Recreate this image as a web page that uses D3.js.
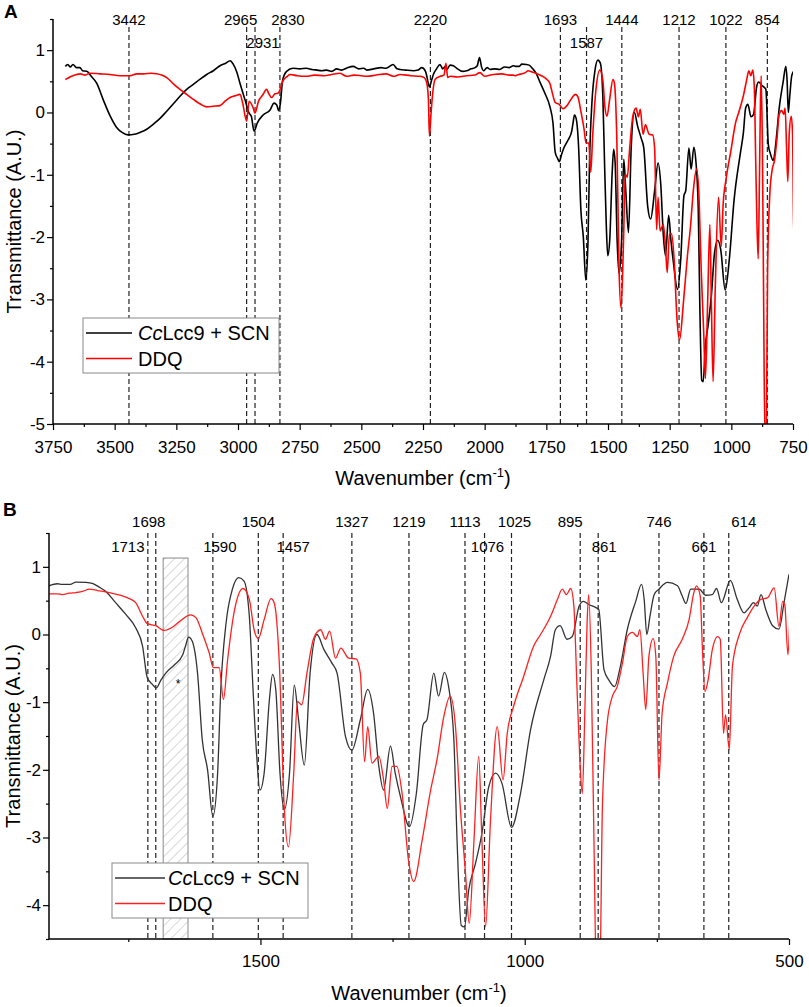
<!DOCTYPE html>
<html>
<head>
<meta charset="utf-8">
<script src="https://cdn.jsdelivr.net/npm/d3@7.9.0/dist/d3.min.js"></script>
<style>
  body { margin: 0; background: #fff; }
  svg { display: block; font-family: "Liberation Sans", Arial, sans-serif; }
</style>
</head>
<body>
<svg id="chart" width="809" height="1007"></svg>
<script>
// spectrum of CcLcc9 + SCN: [wavenumber, transmittance]
const laccaseSpectrum = [
  [3700, 0.74], [3690, 0.77], [3680, 0.73], [3669, 0.77], [3655, 0.72], [3641, 0.72],
  [3630, 0.67], [3613, 0.66], [3595, 0.58], [3573, 0.47], [3547, 0.21], [3519, -0.05],
  [3492, -0.24], [3470, -0.32], [3446, -0.36], [3420, -0.35], [3397, -0.32], [3370, -0.27],
  [3344, -0.19], [3315, -0.09], [3289, 0.02], [3262, 0.14], [3235, 0.26], [3208, 0.37],
  [3181, 0.45], [3155, 0.53], [3127, 0.61], [3100, 0.67], [3073, 0.75], [3050, 0.79],
  [3032, 0.83], [3020, 0.78], [3005, 0.65], [2992, 0.47], [2972, 0.21], [2955, -0.01],
  [2946, -0.06], [2935, -0.30], [2922, -0.17], [2898, -0.04], [2870, 0.04], [2854, 0.15],
  [2843, 0.12], [2835, 0.03], [2828, 0.15], [2819, 0.52], [2803, 0.66], [2777, 0.71],
  [2750, 0.70], [2723, 0.71], [2700, 0.69], [2680, 0.68], [2660, 0.67], [2641, 0.68],
  [2620, 0.66], [2600, 0.70], [2580, 0.68], [2560, 0.71], [2533, 0.74], [2510, 0.70],
  [2490, 0.71], [2478, 0.68], [2450, 0.70], [2420, 0.72], [2400, 0.71], [2371, 0.77],
  [2355, 0.70], [2343, 0.69], [2320, 0.68], [2289, 0.67], [2270, 0.68], [2255, 0.72],
  [2240, 0.66], [2235, 0.59], [2224, 0.41], [2215, 0.52], [2208, 0.61], [2195, 0.70],
  [2181, 0.77], [2170, 0.70], [2160, 0.74], [2154, 0.69], [2140, 0.76], [2127, 0.75],
  [2110, 0.70], [2090, 0.66], [2073, 0.67], [2055, 0.70], [2039, 0.72], [2030, 0.75],
  [2021, 0.88], [2012, 0.72], [2005, 0.67], [1990, 0.72], [1978, 0.69], [1960, 0.70],
  [1938, 0.69], [1920, 0.73], [1900, 0.72], [1884, 0.75], [1875, 0.74], [1860, 0.74],
  [1849, 0.775], [1830, 0.77], [1818, 0.755], [1805, 0.70], [1793, 0.64], [1774, 0.47],
  [1755, 0.30], [1736, 0.10], [1723, -0.17], [1714, -0.64], [1704, -0.74], [1697, -0.79],
  [1688, -0.67], [1679, -0.57], [1663, -0.45], [1647, -0.30], [1641, -0.15], [1636, -0.04],
  [1629, -0.10], [1619, -0.57], [1610, -1.56], [1600, -2.00], [1590, -2.69], [1581, -2.05],
  [1575, -0.81], [1565, 0.17], [1553, 0.67], [1541, 0.84], [1531, 0.79], [1521, 0.27],
  [1514, -0.81], [1507, -1.80], [1501, -2.30], [1493, -2.05], [1483, -0.96], [1477, -0.59],
  [1471, -0.81], [1463, -2.05], [1455, -2.59], [1445, -2.05], [1436, -0.75], [1428, -1.25],
  [1417, -1.93], [1406, -0.57], [1393, 0.00], [1380, -0.22], [1365, -0.42], [1355, -0.57],
  [1339, -1.51], [1327, -1.71], [1311, -1.26], [1297, -0.81], [1286, -1.16], [1276, -1.95],
  [1267, -2.30], [1254, -1.65], [1245, -2.05], [1235, -2.40], [1218, -2.84], [1205, -2.35],
  [1192, -1.33], [1185, -1.26], [1172, -0.57], [1163, -0.91], [1152, -0.56], [1144, -0.77],
  [1134, -1.56], [1128, -3.04], [1120, -4.30], [1114, -4.32], [1106, -3.78], [1093, -3.38],
  [1081, -2.94], [1068, -2.25], [1055, -2.05], [1043, -2.20], [1025, -2.85], [1008, -2.35],
  [989, -1.41], [964, -0.67], [951, -0.32], [942, 0.07], [933, 0.13], [920, -0.07],
  [910, -0.03], [897, 0.42], [889, 0.49], [878, 0.44], [866, 0.40], [860, 0.37],
  [850, -0.52], [841, -0.67], [830, -0.77], [819, -0.47], [806, 0.07], [790, 0.49],
  [779, 0.74], [774, 0.52], [769, 0.00], [763, 0.27], [755, 0.59], [746, 0.67],
  [730, 0.77], [711, 0.72], [702, 0.57], [695, 0.46], [686, 0.67], [670, 0.67],
  [658, 0.58], [645, 0.59], [637, 0.68], [628, 0.47], [611, 0.80], [598, 0.52],
  [585, 0.32], [576, 0.39], [567, 0.47], [560, 0.42], [553, 0.59], [544, 0.37],
  [531, 0.13], [519, 0.08], [509, 0.49], [500, 0.89]
];

// spectrum of DDQ: [wavenumber, transmittance]
const ddqSpectrum = [
  [3700, 0.53], [3690, 0.55], [3675, 0.58], [3654, 0.61], [3640, 0.62], [3620, 0.60],
  [3600, 0.63], [3560, 0.62], [3519, 0.61], [3480, 0.59], [3438, 0.59], [3410, 0.62],
  [3384, 0.62], [3350, 0.63], [3330, 0.62], [3310, 0.60], [3289, 0.56], [3262, 0.46],
  [3235, 0.37], [3208, 0.29], [3181, 0.21], [3155, 0.14], [3127, 0.09], [3100, 0.10],
  [3073, 0.11], [3050, 0.19], [3032, 0.24], [3010, 0.27], [2992, 0.29], [2981, 0.15],
  [2965, -0.14], [2955, 0.18], [2939, 0.08], [2931, -0.01], [2917, 0.18], [2900, 0.28],
  [2884, 0.37], [2875, 0.30], [2864, 0.24], [2850, 0.30], [2838, 0.31], [2830, 0.36],
  [2819, 0.50], [2800, 0.58], [2789, 0.61], [2760, 0.59], [2723, 0.58], [2690, 0.60],
  [2650, 0.59], [2620, 0.61], [2587, 0.63], [2560, 0.58], [2530, 0.60], [2500, 0.59],
  [2478, 0.58], [2440, 0.60], [2400, 0.62], [2370, 0.58], [2343, 0.61], [2300, 0.59],
  [2262, 0.58], [2245, 0.56], [2235, 0.48], [2228, 0.20], [2224, -0.38], [2218, -0.05],
  [2213, 0.21], [2201, 0.53], [2180, 0.58], [2165, 0.60], [2157, 0.79], [2150, 0.56],
  [2140, 0.58], [2110, 0.57], [2073, 0.59], [2040, 0.60], [2019, 0.64], [2000, 0.58],
  [1965, 0.61], [1930, 0.62], [1900, 0.60], [1884, 0.60], [1875, 0.59], [1862, 0.61],
  [1849, 0.62], [1835, 0.64], [1824, 0.67], [1808, 0.65], [1793, 0.63], [1776, 0.60],
  [1761, 0.57], [1748, 0.53], [1736, 0.47], [1723, 0.27], [1714, 0.16], [1698, 0.13],
  [1682, 0.06], [1666, 0.11], [1647, 0.23], [1632, 0.29], [1622, 0.25], [1610, 0.02],
  [1597, -0.27], [1589, -0.49], [1578, -0.49], [1570, -0.96], [1562, -0.37], [1550, 0.32],
  [1533, 0.68], [1521, 0.52], [1512, 0.07], [1504, -0.06], [1493, 0.22], [1480, 0.53],
  [1474, 0.47], [1464, -0.47], [1455, -2.54], [1447, -3.14], [1437, -2.05], [1430, -0.99],
  [1422, -1.04], [1412, -0.57], [1399, -0.05], [1386, 0.07], [1377, -0.07], [1369, 0.05],
  [1358, -0.35], [1348, -0.20], [1333, -0.35], [1319, -0.36], [1311, -0.57], [1303, -1.88],
  [1297, -1.36], [1289, -1.90], [1276, -1.80], [1267, -2.15], [1260, -2.57], [1251, -1.95],
  [1242, -1.95], [1232, -2.35], [1220, -3.33], [1210, -3.65], [1194, -3.04], [1178, -2.30],
  [1166, -1.85], [1153, -1.21], [1141, -0.91], [1131, -1.36], [1122, -2.54], [1112, -3.53],
  [1105, -4.27], [1096, -3.04], [1087, -1.80], [1081, -3.04], [1074, -4.32], [1065, -2.79],
  [1052, -1.36], [1041, -2.15], [1033, -1.46], [1021, -1.06], [1002, -0.62], [983, -0.17],
  [970, 0.00], [951, 0.27], [938, 0.52], [929, 0.67], [921, 0.59], [913, 0.68],
  [907, 0.42], [901, -0.81], [896, -1.80], [891, -2.35], [886, -1.06], [882, 0.17],
  [879, 0.59], [874, -0.57], [869, -3.04], [864, -5.20], [858, -5.10], [853, -2.54],
  [844, -1.31], [834, -0.91], [825, -0.77], [815, -0.42], [806, -0.03], [796, 0.03],
  [787, -0.03], [782, 0.07], [776, -0.57], [771, -1.11], [765, -0.32], [757, -0.06],
  [752, -0.32], [746, -2.15], [740, -1.16], [730, -0.72], [718, -0.32], [702, -0.07],
  [689, 0.22], [680, 0.62], [675, 0.72], [668, 0.57], [664, -0.17], [659, -0.84],
  [653, -0.67], [645, -0.22], [635, -0.03], [630, -0.07], [624, -1.46], [620, -1.19],
  [613, -1.70], [607, -0.47], [594, 0.00], [579, 0.25], [566, 0.42], [553, 0.52],
  [541, 0.54], [528, 0.69], [519, 0.12], [512, 0.49], [508, 0.44], [502, -0.30],
  [499, 0.12]
];

const seriesNames = ['CcLcc9 + SCN', 'DDQ'];

// marked bands, upper row and lower row of labels
const peaksA = [3442, 2965, 2931, 2830, 2220, 1693, 1587, 1444, 1212, 1022, 854];
const lowerRowA = [2931, 1587];
const peaksB = [1713, 1698, 1590, 1504, 1457, 1327, 1219, 1113, 1076, 1025, 895, 861, 746, 661, 614];
const lowerRowB = [1713, 1590, 1457, 1076, 861, 661];

// shaded band in panel B (wavenumber range, top value) and its marker
const hatchBand = [1684, 1637];
const hatchTop = 1.13;
const asteriskAt = [1656, -0.72];

const xTicksA = [3750, 3500, 3250, 3000, 2750, 2500, 2250, 2000, 1750, 1500, 1250, 1000, 750];
const xTicksB = [1500, 1000, 500];
const yTicksA = [-5, -4, -3, -2, -1, 0, 1];
const yTicksB = [-4, -3, -2, -1, 0, 1];

const svg = d3.select('#chart');

// diagonal hatch pattern
const defs = svg.append('defs');
defs.append('pattern')
  .attr('id', 'hatch')
  .attr('patternUnits', 'userSpaceOnUse')
  .attr('width', 7).attr('height', 7)
  .attr('patternTransform', 'rotate(45)')
  .append('line')
  .attr('x1', 0).attr('y1', 0).attr('x2', 0).attr('y2', 7)
  .attr('stroke', '#b0b0b0').attr('stroke-width', 1);

function drawPanel(cfg) {
  const x = d3.scaleLinear().domain(cfg.xDomain).range([cfg.left, cfg.right]);
  const y = d3.scaleLinear().domain(cfg.yDomain).range([cfg.bottom, cfg.top]);
  const g = svg.append('g');

  g.append('clipPath').attr('id', 'clip' + cfg.id)
    .append('rect')
    .attr('x', cfg.left).attr('y', cfg.top)
    .attr('width', cfg.right - cfg.left).attr('height', cfg.bottom - cfg.top);

  // panel letter
  g.append('text')
    .attr('x', cfg.letterX).attr('y', cfg.letterY)
    .attr('font-size', 19).attr('font-weight', 'bold')
    .text(cfg.id);

  if (cfg.hatch) {
    g.append('rect')
      .attr('x', x(hatchBand[0])).attr('y', y(hatchTop))
      .attr('width', x(hatchBand[1]) - x(hatchBand[0]))
      .attr('height', cfg.bottom - y(hatchTop))
      .attr('fill', 'url(#hatch)')
      .attr('stroke', '#8a8a8a').attr('stroke-width', 1);
    g.append('text')
      .attr('x', x(asteriskAt[0])).attr('y', y(asteriskAt[1]) + 5)
      .attr('text-anchor', 'middle').attr('font-size', 12)
      .text('*');
  }

  // dashed band markers
  cfg.peaks.forEach(p => {
    g.append('line')
      .attr('x1', x(p)).attr('x2', x(p))
      .attr('y1', cfg.dashTop).attr('y2', cfg.bottom)
      .attr('stroke', '#222').attr('stroke-width', 1.2)
      .attr('stroke-dasharray', '5,3');
    const lower = cfg.lowerRow.includes(p);
    g.append('text')
      .attr('x', x(p) + (cfg.labelShift[p] || 0))
      .attr('y', lower ? cfg.lowerLabelY : cfg.upperLabelY)
      .attr('text-anchor', 'middle')
      .attr('font-size', 15)
      .text(p);
  });

  const line = d3.line()
    .x(d => x(d[0]))
    .y(d => y(d[1]))
    .curve(d3.curveMonotoneX);

  const plot = g.append('g').attr('clip-path', `url(#clip${cfg.id})`);
  [laccaseSpectrum, ddqSpectrum].forEach((s, i) => {
    plot.append('path')
      .datum(s.filter(d => d[0] <= cfg.xDomain[0] + 10 && d[0] >= cfg.xDomain[1] - 10))
      .attr('d', line)
      .attr('fill', 'none')
      .attr('stroke', cfg.colors[i])
      .attr('stroke-width', cfg.lineWidth)
      .attr('stroke-linejoin', 'round');
  });

  // axes: major ticks with labels, minor ticks without
  const fmt = d => d < 0 ? '-' + Math.abs(d) : String(d);
  const xAxis = g.append('g')
    .attr('transform', `translate(0,${cfg.bottom})`)
    .call(d3.axisBottom(x).tickValues(cfg.xTicks).tickSize(6).tickPadding(cfg.xPad).tickFormat(fmt));
  g.append('g')
    .attr('transform', `translate(0,${cfg.bottom})`)
    .call(d3.axisBottom(x).tickValues(cfg.xMinor).tickSize(3).tickFormat(''))
    .call(a => a.select('.domain').remove());
  const yAxis = g.append('g')
    .attr('transform', `translate(${cfg.left},0)`)
    .call(d3.axisLeft(y).tickValues(cfg.yTicks).tickSize(6).tickPadding(2).tickFormat(fmt));
  g.append('g')
    .attr('transform', `translate(${cfg.left},0)`)
    .call(d3.axisLeft(y).tickValues(cfg.yMinor).tickSize(3).tickFormat(''))
    .call(a => a.select('.domain').remove());

  xAxis.select('.domain').attr('d', `M${cfg.left},0H${cfg.right}`);
  yAxis.select('.domain').attr('d', `M0,${cfg.top}V${cfg.bottom}`);
  g.selectAll('.domain').attr('stroke', '#000').attr('stroke-width', 1.5);
  g.selectAll('.tick line').attr('stroke', '#000').attr('stroke-width', 1.2);
  g.selectAll('.tick text').attr('font-size', 17).attr('fill', '#000')
    .attr('font-family', '"Liberation Sans", Arial, sans-serif');

  // axis titles
  const xt = g.append('text')
    .attr('x', (cfg.left + cfg.right) / 2).attr('y', cfg.xTitleY)
    .attr('text-anchor', 'middle').attr('font-size', 20);
  xt.append('tspan').text('Wavenumber (cm');
  xt.append('tspan').attr('font-size', 13).attr('dy', -8).text('-1');
  xt.append('tspan').attr('dy', 8).text(')');

  g.append('text')
    .attr('transform', `translate(${cfg.yTitleX},${(cfg.top + cfg.bottom) / 2}) rotate(-90)`)
    .attr('text-anchor', 'middle').attr('font-size', 20)
    .text('Transmittance (A.U.)');

  // legend
  const lg = g.append('g');
  lg.append('rect')
    .attr('x', cfg.legend.x).attr('y', cfg.legend.y)
    .attr('width', 196).attr('height', 55)
    .attr('fill', '#fff').attr('stroke', '#8a8a8a').attr('stroke-width', 1);
  seriesNames.forEach((name, i) => {
    const ly = cfg.legend.y + 15 + i * 25.5;
    lg.append('line')
      .attr('x1', cfg.legend.x + 3).attr('x2', cfg.legend.x + cfg.legend.lineLen)
      .attr('y1', ly).attr('y2', ly)
      .attr('stroke', cfg.colors[i]).attr('stroke-width', cfg.lineWidth);
    const t = lg.append('text')
      .attr('x', cfg.legend.x + cfg.legend.textDx).attr('y', ly + 7)
      .attr('font-size', 20);
    if (name.startsWith('Cc')) {
      t.append('tspan').attr('font-style', 'italic').text('Cc');
      t.append('tspan').text(name.slice(2));
    } else {
      t.text(name);
    }
  });
}

drawPanel({
  id: 'A',
  xDomain: [3750, 750], yDomain: [-5, 1.5],
  left: 53, right: 793, top: 19, bottom: 424,
  xTicks: xTicksA,
  xMinor: xTicksA.slice(0, -1).map(d => d - 125),
  yTicks: yTicksA,
  yMinor: [-4.5, -3.5, -2.5, -1.5, -0.5, 0.5, 1.5],
  xPad: 11,
  peaks: peaksA, lowerRow: lowerRowA,
  labelShift: { 2965: -6, 2931: 8, 2830: 8 },
  upperLabelY: 25, lowerLabelY: 48, dashTop: 27,
  colors: ['#000', '#ff0000'], lineWidth: 1.6,
  letterX: 4, letterY: 18,
  xTitleY: 485, yTitleX: 21,
  legend: { x: 83, y: 318, lineLen: 49, textDx: 55 },
  hatch: false
});

drawPanel({
  id: 'B',
  xDomain: [1900, 500], yDomain: [-4.5, 1.5],
  left: 49, right: 789, top: 533, bottom: 939,
  xTicks: xTicksB,
  xMinor: [1750, 1250, 750],
  yTicks: yTicksB,
  yMinor: [-4.5, -3.5, -2.5, -1.5, -0.5, 0.5, 1.5],
  xPad: 10,
  peaks: peaksB, lowerRow: lowerRowB,
  labelShift: { 1713: -20, 1698: -7, 1590: 7, 1457: 10, 1076: 3, 1025: 3, 895: -10, 861: 6, 614: 15 },
  upperLabelY: 527, lowerLabelY: 552, dashTop: 533,
  colors: ['#333', '#ff2020'], lineWidth: 1.3,
  letterX: 3, letterY: 516,
  xTitleY: 1000, yTitleX: 20,
  legend: { x: 112, y: 863, lineLen: 53, textDx: 56 },
  hatch: true
});
</script>
</body>
</html>
